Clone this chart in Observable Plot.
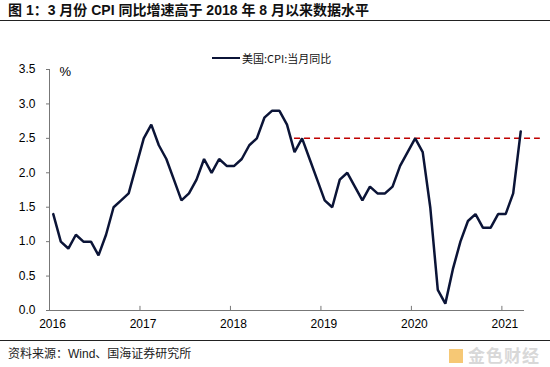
<!DOCTYPE html>
<html><head><meta charset="utf-8">
<script src="https://cdn.jsdelivr.net/npm/d3@7"></script>
<script src="https://cdn.jsdelivr.net/npm/@observablehq/plot@0.6"></script>
<style>
body{margin:0;background:#fff;width:550px;height:367px;overflow:hidden;position:relative;font-family:"Liberation Sans",Arial,sans-serif;}
#title{position:absolute;left:0;top:0;width:550px;height:21px;border-bottom:1.5px solid #222;font:bold 14px "Liberation Sans","Noto Sans CJK SC",sans-serif;line-height:20px;padding-left:8px;box-sizing:border-box;color:#111;white-space:nowrap;}
#legend{position:absolute;left:212px;top:50px;height:16px;display:flex;align-items:center;font:11px "Noto Sans CJK SC",sans-serif;color:#111;}
#legend .sw{width:28px;height:2.5px;background:#0b1437;margin-right:2px;}
#chart{position:absolute;left:0;top:22px;}
#footer{position:absolute;left:0;top:340px;width:550px;height:27px;border-top:1px solid #222;font:12px "Liberation Sans","Noto Sans CJK SC",sans-serif;line-height:26px;padding-left:8px;box-sizing:border-box;color:#222;}
#wm{position:absolute;right:10px;top:345px;height:20px;font:bold 17px "Noto Sans CJK SC",sans-serif;line-height:20px;color:#d8d8d8;letter-spacing:1px;}
#wm span{display:inline-block;width:14px;height:14px;background:#f2b13a;margin-right:5px;vertical-align:-1px;opacity:.7}
</style></head>
<body>
<div id="title">图 1：3 月份 CPI 同比增速高于 2018 年 8 月以来数据水平</div>
<div id="legend"><div class="sw"></div><span>美国:CPI:当月同比</span></div>
<div id="chart"></div>
<div id="footer">资料来源：Wind、国海证券研究所</div>
<div id="wm"><span></span>金色财经</div>
<script>
const yearLabels = ["2016","2017","2018","2019","2020","2021"];
const cpi2016 = [1.4,1.0,0.9,1.1,1.0,1.0,0.8,1.1,1.5,1.6,1.7,2.1];
const cpi2017 = [2.5,2.7,2.4,2.2,1.9,1.6,1.7,1.9,2.2,2.0,2.2,2.1];
const cpi2018 = [2.1,2.2,2.4,2.5,2.8,2.9,2.9,2.7,2.3,2.5,2.2,1.9];
const cpi2019 = [1.6,1.5,1.9,2.0,1.8,1.6,1.8,1.7,1.7,1.8,2.1,2.3];
const cpi2020 = [2.5,2.3,1.5,0.3,0.1,0.6,1.0,1.3,1.4,1.2,1.2,1.4];
const cpi2021 = [1.4,1.7,2.6];
const yTicks = [0,0.5,1.0,1.5,2.0,2.5,3.0,3.5];
const refLevel = 2.5;       // 2018-09 level reference
const refStartIndex = 32;   // Sep 2018
const refEndIndex = 64.6;

const cpi = [...cpi2016,...cpi2017,...cpi2018,...cpi2019,...cpi2020,...cpi2021];
const data = cpi.map((v,i)=>({i, v}));
const n = cpi.length;
const yearTicks = yearLabels.map((d,k)=>k*12-0.5);

const axisColor = "#777";
const plot = Plot.plot({
  width:550, height:318,
  marginLeft:49, marginRight:26, marginTop:47, marginBottom:30,
  style:{fontFamily:"'Liberation Sans', Arial, sans-serif", fontSize:"12px", color:"#000", background:"transparent"},
  x:{domain:[-0.5, n-0.5]},
  y:{domain:[0,3.5]},
  marks:[
    Plot.ruleY([0],{x1:-0.5,x2:n-0.5,stroke:axisColor,strokeWidth:1}),
    Plot.ruleX([-0.5],{y1:0,y2:3.5,stroke:axisColor,strokeWidth:1}),
    Plot.ruleX(yearTicks.slice(1),{y1:0,y2:0.06,stroke:axisColor,strokeWidth:1}),
    Plot.axisY({ticks:yTicks, tickFormat:d3.format(".1f"), tickSize:3, tickPadding:11, stroke:axisColor, label:null}),
    Plot.axisX({ticks:yearTicks, tickFormat:(d)=>yearLabels[Math.round((d+0.5)/12)], tickSize:0, tickPadding:9, dx:3, label:null}),
    Plot.text(["%"],{frameAnchor:"top-left", textAnchor:"start", lineAnchor:"middle", dx:10, dy:2, fontSize:13}),
    Plot.ruleY([refLevel],{x1:refStartIndex,x2:refEndIndex,stroke:"#c00000",strokeWidth:1.5,strokeDasharray:"6,4"}),
    Plot.line(data,{x:"i",y:"v",stroke:"#0b1437",strokeWidth:2.5,strokeLinejoin:"miter"})
  ]
});
document.getElementById("chart").appendChild(plot);
</script>
</body></html>
